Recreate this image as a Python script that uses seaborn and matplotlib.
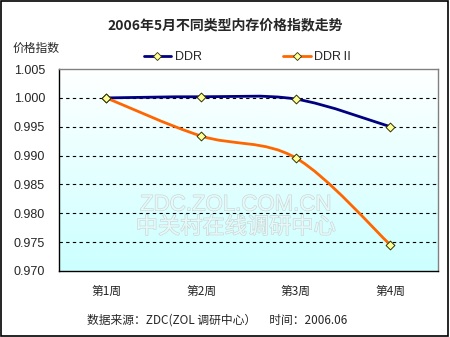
import numpy as np
import pandas as pd
import seaborn as sns
import matplotlib
matplotlib.use("Agg")
import matplotlib.pyplot as plt
from matplotlib.path import Path
from matplotlib.patches import PathPatch, Rectangle
from matplotlib.lines import Line2D
from matplotlib.colors import LinearSegmentedColormap
import matplotlib.patheffects as pe

weeks = ["第1周", "第2周", "第3周", "第4周"]
ddr = [1.000, 1.0002, 0.9998, 0.995]
ddr2 = [1.000, 0.9934, 0.9896, 0.9745]
series_names = ["DDR", "DDRⅡ"]
series_colors = ["#000080", "#FF6600"]
yticks = [0.970, 0.975, 0.980, 0.985, 0.990, 0.995, 1.000, 1.005]

sns.set_theme(style="white")
plt.rcParams['font.family'] = ['Liberation Sans', 'Noto Sans CJK SC', 'DejaVu Sans']

df = pd.DataFrame({
    "idx": list(range(len(weeks))) * 2,
    "value": ddr + ddr2,
    "series": [series_names[0]] * len(weeks) + [series_names[1]] * len(weeks),
})

fig = plt.figure(figsize=(4.5, 3.37), dpi=100)
fig.patch.set_facecolor("white")
fig.add_artist(Rectangle((0.002, 0.003), 0.994, 0.994, transform=fig.transFigure,
                         fill=False, edgecolor="black", linewidth=1.2))

ax = fig.add_axes([0.131, 0.196, 0.842, 0.599])
ax.set_xlim(-0.5, 3.5)
ax.set_ylim(0.970, 1.005)

# gradient background
grad = np.linspace(0, 1, 256).reshape(-1, 1)
cmap = LinearSegmentedColormap.from_list("bg", ["#CCFFFF", "#FFFFFF"])
ax.imshow(grad, aspect="auto", cmap=cmap, origin="lower",
          extent=[-0.5, 3.5, 0.970, 1.005], zorder=0)

# watermark
ax.text(0.467, 0.327, "ZDC.ZOL.COM.CN", transform=ax.transAxes, ha="center", va="center",
        fontsize=16, color="#E6F8F8", family=['Liberation Sans'], zorder=1,
        path_effects=[pe.withStroke(linewidth=0.9, foreground="#C8D6D6")])
ax.text(0.467, 0.218, "中关村在线调研中心", transform=ax.transAxes, ha="center", va="center",
        fontsize=16, color="#E6F8F8", family=['Noto Sans CJK SC'], zorder=1,
        path_effects=[pe.withStroke(linewidth=0.9, foreground="#C8D6D6")])

# gridlines
for yv in yticks[1:-1]:
    ax.axhline(yv, color="black", linestyle=(0, (3, 3)), linewidth=0.8, zorder=2)

# smooth curves (Catmull-Rom -> cubic Bezier)
def smooth_path(xs, ys):
    pts = np.column_stack([xs, ys]).astype(float)
    n = len(pts)
    verts = [pts[0]]
    codes = [Path.MOVETO]
    for i in range(n - 1):
        p0 = pts[i - 1] if i > 0 else pts[i]
        p1 = pts[i]
        p2 = pts[i + 1]
        p3 = pts[i + 2] if i + 2 < n else pts[i + 1]
        c1 = p1 + (p2 - p0) / 6.0
        c2 = p2 - (p3 - p1) / 6.0
        verts += [c1, c2, p2]
        codes += [Path.CURVE4] * 3
    return Path(verts, codes)

for name, col in zip(series_names, series_colors):
    sub = df[df["series"] == name]
    ax.add_patch(PathPatch(smooth_path(sub["idx"].values, sub["value"].values),
                           fill=False, edgecolor=col, linewidth=2.0, zorder=3,
                           capstyle="round", joinstyle="round"))

sns.scatterplot(data=df, x="idx", y="value", marker="D", color="#FFFF99",
                edgecolor="#333300", linewidth=0.7, s=20, zorder=4, ax=ax, legend=False)

ax.set_xlabel("")
ax.set_ylabel("")
ax.set_xticks(range(len(weeks)))
ax.set_xticklabels(weeks, fontsize=8.5, family=['Noto Sans CJK SC'])
ax.set_xticks([0.5, 1.5, 2.5], minor=True)
ax.tick_params(axis="x", which="major", length=0, pad=10)
ax.tick_params(axis="x", which="minor", length=4, direction="in", color="black", width=0.8)
ax.set_yticks(yticks)
ax.set_yticklabels([f"{v:.3f}" for v in yticks], fontsize=9)
ax.tick_params(axis="y", length=0, pad=10)

for s in ["left", "bottom"]:
    ax.spines[s].set_color("black")
    ax.spines[s].set_linewidth(1.0)
for s in ["top", "right"]:
    ax.spines[s].set_color("#808080")
    ax.spines[s].set_linewidth(1.0)

fig.text(0.5, 0.925, "2006年5月不同类型内存价格指数走势", ha="center", va="center",
         fontsize=10, fontweight="bold", family=['Noto Sans CJK SC'])
fig.text(0.028, 0.857, "价格指数", ha="left", va="center", fontsize=8.5,
         family=['Noto Sans CJK SC'])
fig.text(0.193, 0.05, "数据来源：ZDC(ZOL 调研中心）     时间：2006.06", ha="left", va="center",
         fontsize=8.5, family=['Noto Sans CJK SC', 'Liberation Sans'])

handles = [Line2D([0], [0], color=c, linewidth=2, marker="D", markersize=4,
                  markerfacecolor="#FFFF99", markeredgecolor="#333300", markeredgewidth=0.6)
           for c in series_colors]
fig.legend(handles, series_names, loc="center", bbox_to_anchor=(0.553, 0.83), ncol=2,
           frameon=False, handlelength=2.2, columnspacing=6.5, handletextpad=0.3,
           prop={'family': ['Liberation Sans', 'Noto Sans CJK SC'], 'size': 9})

fig.savefig("out.png", dpi=100)
